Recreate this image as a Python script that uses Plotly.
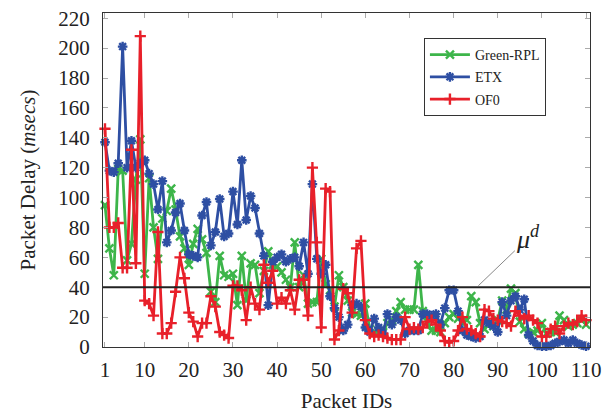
import plotly.graph_objects as go

packet_ids = list(range(1, 111))

green_rpl = [95, 66, 48, 119, 118, 58, 69, 112, 139, 49,
             113, 80, 59, 86, 91, 106, 92, 74, 66, 55,
             69, 79, 72, 63, 37, 30, 61, 48, 47, 49,
             28, 61, 31, 56, 55, 36, 51, 64, 55, 54,
             50, 45, 40, 70, 40, 48, 29, 30, 30, 59,
             42, 38, 27, 48, 40, 31, 23, 22, 21, 29,
             12, 10, 10, 10, 16, 18, 24, 30, 25, 25,
             25, 55, 24, 17, 11, 11, 10, 16, 20, 22,
             19, 16, 18, 34, 30, 16, 12, 16, 14, 18,
             31, 25, 39, 36, 17, 12, 9, 10, 11, 16,
             9, 10, 10, 21, 18, 14, 15, 16, 18, 15]

etx = [137, 118, 117, 123, 201, 120, 138, 120, 123, 125,
       116, 109, 92, 111, 70, 78, 90, 96, 78, 62,
       61, 60, 88, 97, 68, 77, 99, 74, 76, 104,
       82, 125, 85, 101, 93, 76, 61, 28, 57, 60,
       62, 57, 59, 60, 54, 70, 49, 109, 59, 49,
       55, 34, 26, 20, 11, 15, 28, 29, 27, 13,
       10, 19, 13, 9, 22, 15, 20, 18, 9, 11,
       11, 11, 22, 22, 21, 22, 15, 26, 38, 38,
       24, 11, 8, 7, 6, 7, 18, 16, 14, 10,
       30, 21, 31, 34, 25, 32, 8, 4, 1, 0.5,
       0.5, 1, 2.5, 3.6, 4.7, 2.5, 4.7, 2.5, 1.3, 0.5]

of0 = [146, 80, 80, 83, 53, 53, 132, 56, 208, 31,
       29, 21, 77, 9, 9, 16, 37, 60, 46, 23,
       17, 7, 16, 16, 34, 27, 10, 8, 6, 41,
       41, 38, 18, 40, 29, 25, 55, 43, 51, 29,
       33, 29, 38, 25, 45, 45, 21, 120, 70, 13,
       106, 104, 5, 11, 39, 36, 23, 66, 71, 18,
       9, 7, 8, 7, 6, 5, 5, 5, 20, 12,
       13, 12, 13, 17, 18, 15, 11, 4, 3, 4,
       11, 20, 12, 11, 9, 7, 25, 24, 19, 18,
       17, 16, 14, 24, 21, 19, 21, 18, 16, 7,
       7, 12, 14, 9, 14, 16, 15, 17, 21, 18]

threshold = 40
x_ticks = [1, 10, 20, 30, 40, 50, 60, 70, 80, 90, 100, 110]
y_ticks = list(range(0, 221, 20))

SERIF = "Times New Roman, Liberation Serif, DejaVu Serif, serif"

series = [
    ("Green-RPL", green_rpl, "#3db54a", "x-thin-open"),
    ("ETX", etx, "#2e4fa3", "asterisk-open"),
    ("OF0", of0, "#e8202a", "cross-thin-open"),
]

fig = go.Figure()
for name, vals, color, sym in series:
    fig.add_trace(go.Scatter(
        x=packet_ids, y=vals, name=name, mode="lines+markers",
        legendgroup=name,
        line=dict(color=color, width=2.8),
        marker=dict(symbol=sym, size=8, color=color,
                    line=dict(color=color, width=2.4)),
        cliponaxis=False,
    ))

fig.add_hline(y=threshold, line=dict(color="#222222", width=2))

fig.add_annotation(
    x=85.6, y=threshold + 1, xref="x", yref="y",
    text="<i>μ</i><sup><i>d</i></sup>", showarrow=True,
    arrowhead=0, arrowwidth=1, arrowcolor="#888888",
    ax=50, ay=-48, standoff=0,
    font=dict(family=SERIF, size=26, color="#222222"),
)

axis_common = dict(
    showline=True, linecolor="#333333", linewidth=1, mirror="ticks",
    ticks="inside", ticklen=5, tickcolor="#aaaaaa", tickwidth=1,
    showgrid=False, zeroline=False, automargin=False,
    tickfont=dict(family=SERIF, size=21, color="#222222"),
)

fig.update_xaxes(range=[0.55, 110.9], tickvals=x_ticks, ticklabelstandoff=4,
                 title=dict(text="Packet IDs", standoff=12,
                            font=dict(family=SERIF, size=21, color="#222222")),
                 **axis_common)
fig.update_yaxes(range=[0, 223.5], tickvals=y_ticks, ticklabelstandoff=8,
                 title=dict(text="Packet Delay (<i>msecs</i>)", standoff=16,
                            font=dict(family=SERIF, size=21, color="#222222")),
                 **axis_common)

fig.update_layout(
    width=616, height=414,
    margin=dict(l=103, r=26, t=13, b=67),
    paper_bgcolor="white", plot_bgcolor="white",
    showlegend=True,
    legend=dict(x=0.659, y=0.925, xanchor="left", yanchor="top",
                bordercolor="#333333", borderwidth=1, bgcolor="white",
                font=dict(family=SERIF, size=14, color="#222222"),
                tracegroupgap=1, itemwidth=40),
)

fig.write_html("out.html")
